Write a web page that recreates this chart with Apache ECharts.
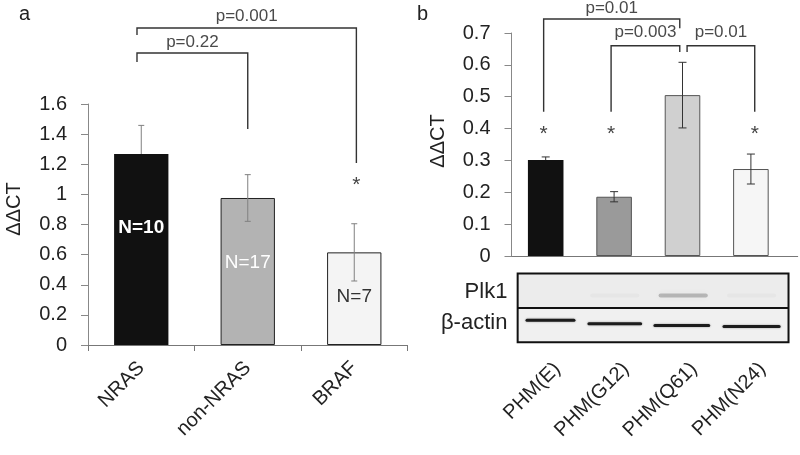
<!DOCTYPE html>
<html><head><meta charset="utf-8">
<script src="https://cdn.jsdelivr.net/npm/echarts@6/dist/echarts.min.js"></script>
<style>html,body{margin:0;padding:0;background:#fff}#c{width:800px;height:455px}</style>
</head><body><div id="c"></div>
<script>
// ---------- Panel a data ----------
const catsA = ['NRAS', 'non-NRAS', 'BRAF'];
const valsA = [1.268, 0.976, 0.615];
const errA = [0.19, 0.155, 0.19];
const colorsA = ['#111111', '#b3b3b3', '#f4f4f4'];
const nLabelsA = ['N=10', 'N=17', 'N=7'];
const nLabelValA = [0.777, 0.545, 0.319];
const ticksA = { min: 0, max: 1.6, interval: 0.2 };
// brackets: left cat, right cat, top value, left leg end, right leg end, label, label value
const bracketsA = [
  { from: -0.04, to: 2.02, top: 2.105, l: 2.058, r: 1.208, text: 'p=0.001', tv: 2.185 },
  { from: -0.04, to: 1.0, top: 1.939, l: 1.879, r: 1.434, text: 'p=0.22', tv: 2.012 }
];
const starsA = [[2.02, 1.096]];

// ---------- Panel b data ----------
const catsB = ['PHM(E)', 'PHM(G12)', 'PHM(Q61)', 'PHM(N24)'];
const valsB = [0.301, 0.186, 0.505, 0.273];
const errB = [0.010, 0.016, 0.103, 0.047];
const colorsB = ['#111111', '#9a9a9a', '#d0d0d0', '#f6f6f6'];
const ticksB = { min: 0, max: 0.7, interval: 0.1 };
const bracketsB = [
  { from: -0.03, to: 1.96, top: 0.744, l: 0.453, r: 0.715, text: 'p=0.01', tv: 0.776 },
  { from: 0.956, to: 1.96, top: 0.660, l: 0.453, r: 0.640, text: 'p=0.003', tv: 0.703 },
  { from: 2.067, to: 3.056, top: 0.660, l: 0.640, r: 0.453, text: 'p=0.01', tv: 0.703 }
];
const starsB = [[-0.03, 0.398], [0.956, 0.398], [3.056, 0.398]];
const blotRows = ['Plk1', 'β-actin'];
const plk1Intensity = [0.0, 0.025, 0.22, 0.025];

const FONT = 'Liberation Sans, Arial, sans-serif';

function xAt(api, c, v) {
  const base = api.coord([0, v]);
  const w = api.size([1, 0])[0];
  return [base[0] + c * w, base[1]];
}

function errRender(color, capW, barCols) {
  return function (params, api) {
    const i = api.value(0), v = api.value(1), e = api.value(2);
    const pHi = api.coord([i, v + e]), pV = api.coord([i, v]), pLo = api.coord([i, v - e]);
    const dark = barCols[i] === '#111111';
    const kids = [
      { type: 'line', shape: { x1: pHi[0], y1: pHi[1], x2: pV[0], y2: pV[1] }, style: { stroke: color, lineWidth: 1 } },
      { type: 'line', shape: { x1: pHi[0] - capW, y1: pHi[1], x2: pHi[0] + capW, y2: pHi[1] }, style: { stroke: color, lineWidth: 1 } }
    ];
    if (!dark) {
      kids.push({ type: 'line', shape: { x1: pV[0], y1: pV[1], x2: pLo[0], y2: pLo[1] }, style: { stroke: color, lineWidth: 1 } });
      kids.push({ type: 'line', shape: { x1: pLo[0] - capW, y1: pLo[1], x2: pLo[0] + capW, y2: pLo[1] }, style: { stroke: color, lineWidth: 1 } });
    }
    return { type: 'group', children: kids };
  };
}

function annRender(brackets, stars, lineColor, textSize) {
  return function (params, api) {
    const kids = [];
    brackets.forEach(function (b) {
      const a1 = xAt(api, b.from, b.l), a2 = xAt(api, b.from, b.top);
      const b2 = xAt(api, b.to, b.top), b1 = xAt(api, b.to, b.r);
      kids.push({ type: 'polyline', shape: { points: [a1, a2, b2, b1] }, style: { stroke: lineColor, lineWidth: 1.4, fill: null } });
      const t = xAt(api, (b.from + b.to) / 2, b.tv);
      kids.push({ type: 'text', x: t[0], y: t[1], style: { text: b.text, fill: '#4a4a4a', font: textSize + 'px ' + FONT, align: 'center', verticalAlign: 'middle' } });
    });
    stars.forEach(function (s) {
      const p = xAt(api, s[0], s[1]);
      kids.push({ type: 'text', x: p[0], y: p[1] + 5, style: { text: '*', fill: '#444', font: '21px ' + FONT, align: 'center', verticalAlign: 'middle' } });
    });
    return { type: 'group', children: kids };
  };
}

function nLabelRender(params, api) {
  const i = api.value(0);
  const p = api.coord([i, nLabelValA[i]]);
  const styles = [
    { fill: '#fff', font: 'bold 19px ' + FONT },
    { fill: '#fff', font: '19px ' + FONT },
    { fill: '#333', font: '19px ' + FONT }
  ];
  return { type: 'text', x: p[0], y: p[1], style: Object.assign({ text: nLabelsA[i], align: 'center', verticalAlign: 'middle' }, styles[i]) };
}

function xLabelBRender(params, api) {
  const i = api.value(0);
  const p = xAt(api, i + 0.17, 0);
  return { type: 'text', x: p[0], y: p[1] + 110, rotation: Math.PI / 4,
    style: { text: catsB[i], fill: '#222', font: '20px ' + FONT, align: 'right', verticalAlign: 'middle' } };
}

function blotRender(params, api) {
  const top = xAt(api, -0.41, -0.0553), mid = xAt(api, -0.41, -0.1635), bot = xAt(api, 3.55, -0.2704);
  const w = api.size([1, 0])[0];
  const kids = [];
  // x-axis line extension to the right edge
  const e1 = xAt(api, 3.45, 0), e2 = xAt(api, 3.69, 0);
  const ey = Math.round(e1[1]) + 0.5;
  kids.push({ type: 'line', shape: { x1: e1[0], y1: ey, x2: e2[0], y2: ey }, style: { stroke: '#777', lineWidth: 1 } });
  kids.push({ type: 'rect', shape: { x: top[0], y: top[1], width: bot[0] - top[0], height: mid[1] - top[1] }, style: { fill: '#ececec' } });
  kids.push({ type: 'rect', shape: { x: top[0], y: mid[1], width: bot[0] - top[0], height: bot[1] - mid[1] }, style: { fill: '#f0f0f0' } });
  const actin = [[0.07, 0.73, -0.202], [1.01, 0.80, -0.2126], [1.99, 0.83, -0.218], [3.01, 0.85, -0.221]];
  actin.forEach(function (a) {
    const c = xAt(api, a[0], a[2]);
    kids.push({ type: 'rect', shape: { x: c[0] - a[1] * w / 2, y: c[1] - 1.5, width: a[1] * w, height: 3, r: 1.5 }, style: { fill: '#1c1c1c', shadowBlur: 2, shadowColor: 'rgba(0,0,0,0.4)' } });
  });
  plk1Intensity.forEach(function (k, i) {
    if (k <= 0) return;
    const c = xAt(api, i + 0.01, -0.1236);
    kids.push({ type: 'rect', shape: { x: c[0] - 0.36 * w, y: c[1] - 2, width: 0.72 * w, height: 4, r: 2 }, style: { fill: 'rgba(0,0,0,' + k + ')', shadowBlur: 6, shadowColor: 'rgba(0,0,0,' + k + ')' } });
  });
  kids.push({ type: 'rect', shape: { x: top[0], y: top[1], width: bot[0] - top[0], height: bot[1] - top[1] }, style: { fill: null, stroke: '#111', lineWidth: 2 } });
  kids.push({ type: 'line', shape: { x1: top[0], y1: mid[1], x2: bot[0], y2: mid[1] }, style: { stroke: '#111', lineWidth: 2 } });
  const l1 = xAt(api, -0.56, -0.1115), l2 = xAt(api, -0.56, -0.2115);
  kids.push({ type: 'text', x: l1[0], y: l1[1], style: { text: blotRows[0], fill: '#222', font: '22px ' + FONT, align: 'right', verticalAlign: 'middle' } });
  kids.push({ type: 'text', x: l2[0], y: l2[1], style: { text: blotRows[1], fill: '#222', font: '22px ' + FONT, align: 'right', verticalAlign: 'middle' } });
  return { type: 'group', children: kids };
}

const chart = echarts.init(document.getElementById('c'), null, { renderer: 'canvas' });
const axisText = { color: '#222', fontSize: 20, fontFamily: FONT };
const yFmt = function (v) { return String(+v.toFixed(1)); };
chart.setOption({
  backgroundColor: '#ffffff',
  animation: false,
  graphic: [
    { type: 'text', left: 19, top: 4, style: { text: 'a', fill: '#222', font: '20px ' + FONT } },
    { type: 'text', left: 417, top: 4, style: { text: 'b', fill: '#222', font: '20px ' + FONT } },
    { type: 'text', x: 14, y: 209, rotation: Math.PI / 2, style: { text: 'ΔΔCT', fill: '#222', font: '20px ' + FONT, align: 'center', verticalAlign: 'middle' } },
    { type: 'text', x: 438, y: 141, rotation: Math.PI / 2, style: { text: 'ΔΔCT', fill: '#222', font: '20px ' + FONT, align: 'center', verticalAlign: 'middle' } }
  ],
  grid: [
    { left: 88, top: 104, width: 319.5, height: 241 },
    { left: 511.5, top: 33, width: 273.6, height: 223 }
  ],
  xAxis: [
    { type: 'category', gridIndex: 0, data: catsA,
      axisLine: { lineStyle: { color: '#777', width: 1 } },
      axisTick: { show: true, length: 6, lineStyle: { color: '#777' } },
      axisLabel: { rotate: 45, margin: 20, fontSize: 20, color: '#222', fontFamily: FONT } },
    { type: 'category', gridIndex: 1, data: catsB,
      axisLine: { lineStyle: { color: '#777', width: 1 } },
      axisTick: { show: false },
      axisLabel: { show: false } }
  ],
  yAxis: [
    { type: 'value', gridIndex: 0, min: ticksA.min, max: ticksA.max, interval: ticksA.interval,
      axisLine: { show: true, lineStyle: { color: '#888' } },
      axisTick: { show: true, length: 7, lineStyle: { color: '#888' } },
      splitLine: { show: false },
      axisLabel: Object.assign({ margin: 21, formatter: yFmt }, axisText) },
    { type: 'value', gridIndex: 1, min: ticksB.min, max: ticksB.max, interval: ticksB.interval,
      axisLine: { show: true, lineStyle: { color: '#888' } },
      axisTick: { show: true, length: 7, lineStyle: { color: '#888' } },
      splitLine: { show: false },
      axisLabel: Object.assign({ margin: 21, formatter: yFmt }, axisText) }
  ],
  series: [
    { type: 'bar', xAxisIndex: 0, yAxisIndex: 0, barWidth: '51%',
      data: valsA.map(function (v, i) { return { value: v, itemStyle: { color: colorsA[i], borderColor: '#222', borderWidth: i === 0 ? 0 : 1 } }; }) },
    { type: 'custom', xAxisIndex: 0, yAxisIndex: 0, z: 5, renderItem: errRender('#808080', 3, colorsA),
      data: valsA.map(function (v, i) { return [i, v, errA[i]]; }) },
    { type: 'custom', xAxisIndex: 0, yAxisIndex: 0, z: 6, renderItem: nLabelRender,
      data: nLabelsA.map(function (t, i) { return [i, nLabelValA[i]]; }) },
    { type: 'custom', xAxisIndex: 0, yAxisIndex: 0, z: 6, clip: false, renderItem: annRender(bracketsA, starsA, '#333', 17),
      data: [[0, 0]] },
    { type: 'bar', xAxisIndex: 1, yAxisIndex: 1, barWidth: '52%',
      data: valsB.map(function (v, i) { return { value: v, itemStyle: { color: colorsB[i], borderColor: '#555', borderWidth: i === 0 ? 0 : 1 } }; }) },
    { type: 'custom', xAxisIndex: 1, yAxisIndex: 1, z: 5, renderItem: errRender('#333', 4, colorsB),
      data: valsB.map(function (v, i) { return [i, v, errB[i]]; }) },
    { type: 'custom', xAxisIndex: 1, yAxisIndex: 1, z: 6, clip: false, renderItem: annRender(bracketsB, starsB, '#333', 17),
      data: [[0, 0]] },
    { type: 'custom', xAxisIndex: 1, yAxisIndex: 1, z: 6, clip: false, renderItem: blotRender,
      data: [[0, 0]] },
    { type: 'custom', xAxisIndex: 1, yAxisIndex: 1, z: 6, clip: false, renderItem: xLabelBRender,
      data: catsB.map(function (c, i) { return [i, 0]; }) }
  ]
});
</script>
</body></html>
